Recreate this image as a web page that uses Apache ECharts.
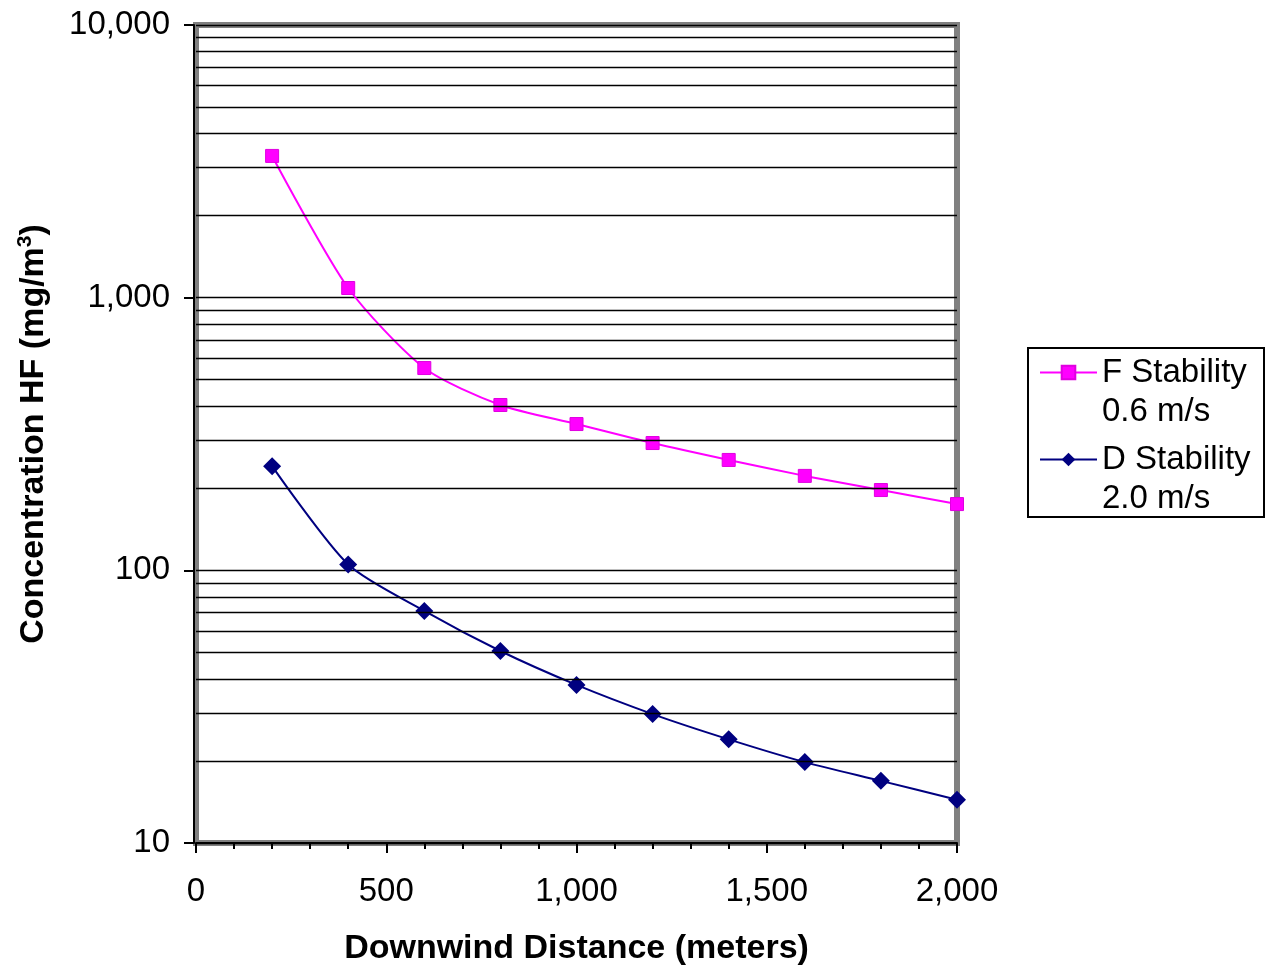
<!DOCTYPE html>
<html>
<head>
<meta charset="utf-8">
<script src="https://cdn.jsdelivr.net/npm/echarts@6/dist/echarts.min.js"></script>
<style>
  html, body { margin: 0; padding: 0; background: #fff; }
  #chart { width: 1267px; height: 970px; }
</style>
</head>
<body>
<div id="chart"></div>
<script>
// distances (m)
const distances = [200, 400, 600, 800, 1000, 1200, 1400, 1600, 1800, 2000]
// concentration HF (mg/m3)
const fStability = [3310, 1085, 552, 404, 344, 293, 254, 222, 197, 175]
const dStability = [241, 105, 71, 50.6, 38, 29.7, 24, 19.8, 16.9, 14.4]
const seriesNames = ['F Stability\n0.6 m/s', 'D Stability\n2.0 m/s']
// minor log gridlines
const yGridValues = [20, 30, 40, 50, 60, 70, 80, 90,
  200, 300, 400, 500, 600, 700, 800, 900,
  2000, 3000, 4000, 5000, 6000, 7000, 8000, 9000]

const font = 'Liberation Sans, Arial, sans-serif'
const pairs = vals => distances.map((d, i) => [d, vals[i]])

const chart = echarts.init(document.getElementById('chart'))

// an empty first line keeps the icon level with the first text line
const legendBase = {
  orient: 'vertical',
  left: 1039,
  padding: 0,
  itemWidth: 57,
  itemHeight: 17,
  formatter: name => '\n' + name,
  textStyle: {
    fontFamily: font,
    fontSize: 33,
    color: '#000',
    lineHeight: 39
  }
}

const option = {
  backgroundColor: '#fff',
  animation: false,
  grid: {
    left: 196,
    top: 25,
    width: 761,
    height: 818,
    containLabel: false,
    outerBoundsMode: 'none',
    show: true,
    borderColor: '#808080',
    borderWidth: 6,
    backgroundColor: 'transparent'
  },
  legend: [
    Object.assign({}, legendBase, { top: 314, data: [seriesNames[0]] }),
    Object.assign({}, legendBase, { top: 401, data: [seriesNames[1]] })
  ],
  graphic: [{
    type: 'rect',
    shape: { x: 1028, y: 348, width: 236, height: 169 },
    style: { fill: 'none', stroke: '#000', lineWidth: 2 },
    silent: true
  }],
  xAxis: {
    type: 'value',
    min: 0,
    max: 2000,
    interval: 500,
    name: 'Downwind Distance (meters)',
    nameLocation: 'middle',
    nameGap: 89,
    nameTextStyle: { fontFamily: font, fontSize: 34, fontWeight: 'bold', color: '#000' },
    axisLine: { show: true, onZero: false, lineStyle: { color: '#000', width: 2 } },
    axisTick: { show: true, inside: false, length: 10, lineStyle: { color: '#000', width: 2 } },
    minorTick: { show: true, splitNumber: 5, length: 6, lineStyle: { color: '#000', width: 2 } },
    axisLabel: {
      show: true,
      margin: 32,
      fontFamily: font,
      fontSize: 33,
      color: '#000',
      showMinLabel: true,
      showMaxLabel: true,
      formatter: v => v.toLocaleString('en-US')
    },
    splitLine: { show: false }
  },
  yAxis: {
    type: 'log',
    logBase: 10,
    min: 10,
    max: 10000,
    offset: 2,
    name: '{a|Concentration HF (mg/m}{s|3}{a|)}',
    nameLocation: 'middle',
    nameGap: 141,
    nameTextStyle: {
      rich: {
        a: { fontFamily: font, fontSize: 34, fontWeight: 'bold', color: '#000', lineHeight: 38 },
        s: { fontFamily: font, fontSize: 21, fontWeight: 'bold', color: '#000', verticalAlign: 'top', lineHeight: 38 }
      }
    },
    axisLine: { show: true, onZero: false, lineStyle: { color: '#000', width: 2 } },
    axisTick: { show: true, inside: false, length: 10, lineStyle: { color: '#000', width: 2 } },
    minorTick: { show: false },
    axisLabel: {
      show: true,
      margin: 24,
      fontFamily: font,
      fontSize: 33,
      color: '#000',
      showMinLabel: true,
      showMaxLabel: true,
      formatter: v => Math.round(v).toLocaleString('en-US')
    },
    splitLine: { show: true, lineStyle: { color: '#000', width: 1.3 } }
  },
  series: [
    {
      name: 'gridlines',
      type: 'line',
      data: [],
      z: 1,
      silent: true,
      markLine: {
        silent: true,
        symbol: 'none',
        label: { show: false },
        lineStyle: { color: '#000', width: 1.3, type: 'solid' },
        emphasis: { disabled: true },
        data: yGridValues.map(v => ({ yAxis: v }))
      }
    },
    {
      name: seriesNames[0],
      type: 'line',
      data: pairs(fStability),
      smooth: 0.25,
      clip: false,
      z: 3,
      symbol: 'rect',
      symbolSize: 13,
      lineStyle: { color: '#ff00ff', width: 2 },
      itemStyle: { color: '#ff00ff', borderColor: '#e000e0', borderWidth: 1 }
    },
    {
      name: seriesNames[1],
      type: 'line',
      data: pairs(dStability),
      smooth: 0.25,
      clip: false,
      z: 3,
      symbol: 'diamond',
      symbolSize: 18,
      lineStyle: { color: '#000080', width: 2 },
      itemStyle: { color: '#000080' }
    }
  ]
}

chart.setOption(option)
</script>
</body>
</html>
